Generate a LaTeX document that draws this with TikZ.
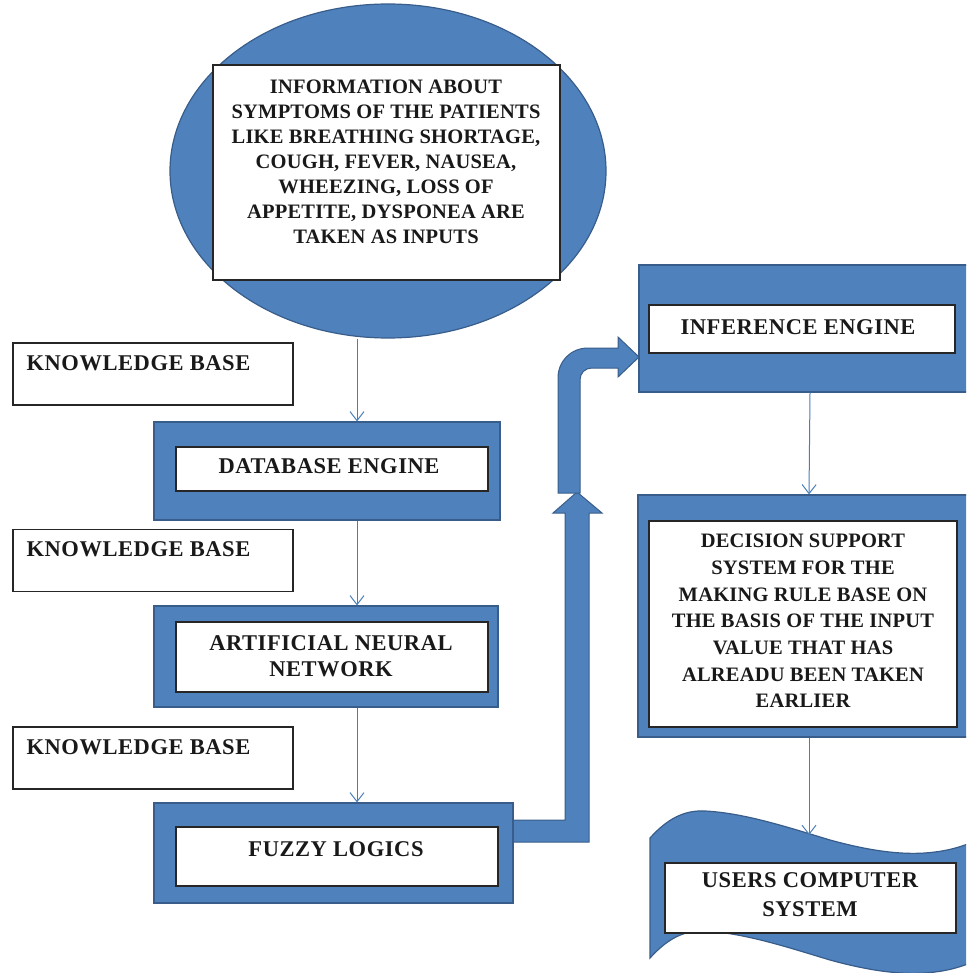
\documentclass[tikz,border=0pt]{standalone}
\usepackage{fontspec}
\setmainfont{Liberation Serif}
\usetikzlibrary{arrows.meta,shapes.geometric,calc}
\definecolor{ofblue}{HTML}{4F81BD}
\definecolor{ofedge}{HTML}{385D8A}
\definecolor{linkblue}{HTML}{4A7EBB}

\begin{document}
\begin{tikzpicture}[x=1pt,y=-1pt,
  blueframe/.style={rectangle, fill=ofblue, draw=ofedge, line width=1.2pt, inner sep=0pt},
  panel/.style={rectangle, fill=white, draw=black!85, line width=1.2pt, inner sep=0pt},
  kbbox/.style={rectangle, fill=white, draw=black!85, line width=1.2pt, inner sep=0pt,
                minimum width=280pt, minimum height=62pt},
  txtbig/.style={font=\bfseries\fontsize{22.5}{26}\selectfont\addfontfeature{LetterSpace=2.5},
                 align=center, inner sep=0pt, text=black!90},
  txtsmall/.style={font=\bfseries\fontsize{20.5}{25}\selectfont\addfontfeature{LetterSpace=1},
                   align=center, inner sep=0pt, text=black!90},
  conn/.style={draw=linkblue, line width=1pt, -{Straight Barb[length=9pt,width=14pt]}},
  fat/.style={fill=ofblue, draw=ofedge, line width=1pt, line join=miter}]

\useasboundingbox (0,0) rectangle (966,973);
\clip (0,0) rectangle (966,973);

% input ellipse with its text panel
\node[ellipse, fill=ofblue, draw=ofedge, line width=1.2pt, inner sep=0pt,
      minimum width=436pt, minimum height=334pt] (info) at (388,171) {};
\node[panel, minimum width=347pt, minimum height=215pt] (infopanel) at (386.5,172.5) {};
\node[txtsmall] (infotext) at (386,162) {INFORMATION ABOUT\\SYMPTOMS OF THE PATIENTS\\LIKE BREATHING SHORTAGE,\\COUGH, FEVER, NAUSEA,\\WHEEZING, LOSS OF\\APPETITE, DYSPONEA ARE\\TAKEN AS INPUTS};

% knowledge base boxes
\node[kbbox] (kb1) at (153,374) {};
\node[kbbox] (kb2) at (153,560.5) {};
\node[kbbox] (kb3) at (153,758) {};
\node[txtbig, anchor=base west] (kb1t) at ($(kb1.north west)+(14,28)$) {KNOWLEDGE BASE};
\node[txtbig, anchor=base west] (kb2t) at ($(kb2.north west)+(14,28)$) {KNOWLEDGE BASE};
\node[txtbig, anchor=base west] (kb3t) at ($(kb3.north west)+(14,28)$) {KNOWLEDGE BASE};

% bent block arrow leaving the fuzzy logic stage
\path[fat] (505,820) -- (565,820) -- (565,513) -- (553,513) -- (577,492)
  -- (602,513) -- (589,513) -- (589,842) -- (505,842) -- cycle;
% curved block arrow into the inference engine
\path[fat] (558,493) -- (558,378) .. controls (558,361) and (571,348) .. (588,348)
  -- (618,348) -- (618,337) -- (639,357) -- (618,377) -- (618,368) -- (592,368)
  .. controls (585,368) and (580,373) .. (580,380) -- (580,493) -- cycle;

% left column stages
\node[blueframe, minimum width=346pt, minimum height=98pt] (dbout) at (327,471) {};
\node[panel, minimum width=312pt, minimum height=44pt] (dbin) at (332,469) {};
\node[txtbig] (dbtext) at (329,466) {DATABASE ENGINE};

\node[blueframe, minimum width=344pt, minimum height=101pt] (annout) at (326,656.5) {};
\node[panel, minimum width=312pt, minimum height=70pt] (annin) at (332,657) {};
\node[txtbig] (anntext) at (331,656) {ARTIFICIAL NEURAL\\NETWORK};

\node[blueframe, minimum width=359pt, minimum height=100pt] (fzout) at (333.5,853) {};
\node[panel, minimum width=322pt, minimum height=59pt] (fzin) at (337,856.5) {};
\node[txtbig] (fztext) at (336,849) {FUZZY LOGICS};

% right column stages
\node[blueframe, minimum width=342pt, minimum height=127pt] (infout) at (810,328.5) {};
\node[panel, minimum width=306pt, minimum height=48pt] (infin) at (802,329) {};
\node[txtbig] (inftext) at (798,327) {INFERENCE ENGINE};

\node[blueframe, minimum width=342pt, minimum height=242pt] (decout) at (809,616) {};
\node[panel, minimum width=308pt, minimum height=206pt] (decin) at (803,624) {};
\node[txtsmall, font=\bfseries\fontsize{20.5}{26.7}\selectfont\addfontfeature{LetterSpace=1}] (dectext) at (803,621)
  {DECISION SUPPORT\\SYSTEM FOR THE\\MAKING RULE BASE ON\\THE BASIS OF THE INPUT\\VALUE THAT HAS\\ALREADU BEEN TAKEN\\EARLIER};

% punched-tape output shape
\path[fat, line width=1.2pt] (650,838) .. controls (668,818) and (685,810) .. (705,811)
  .. controls (745,813) and (790,828) .. (830,840)
  .. controls (870,851) and (905,856) .. (935,852)
  .. controls (960,849) and (980,840) .. (1000,828)
  -- (1000,948)
  .. controls (980,960) and (960,969) .. (935,972)
  .. controls (905,976) and (870,971) .. (830,960)
  .. controls (790,948) and (745,933) .. (705,931)
  .. controls (685,930) and (668,938) .. (650,958) -- cycle;
\coordinate (wavetop) at (809,835);
\node[panel, minimum width=291pt, minimum height=70pt] (usrin) at (810.5,898) {};
\node[txtbig, font=\bfseries\fontsize{22.5}{29}\selectfont\addfontfeature{LetterSpace=2.5}] (usrtext) at (810,895) {USERS COMPUTER\\SYSTEM};

% thin connectors
\coordinate (spine) at (357,0);
\draw[conn] (spine |- info.south) -- (spine |- dbout.north);
\draw[conn] (spine |- dbout.south) -- (spine |- annout.north);
\draw[conn] (spine |- annout.south) -- (spine |- fzout.north);
\draw[conn] (infout.south) -- (decout.north);
\draw[conn] (decout.south) -- (wavetop);
\end{tikzpicture}
\end{document}
